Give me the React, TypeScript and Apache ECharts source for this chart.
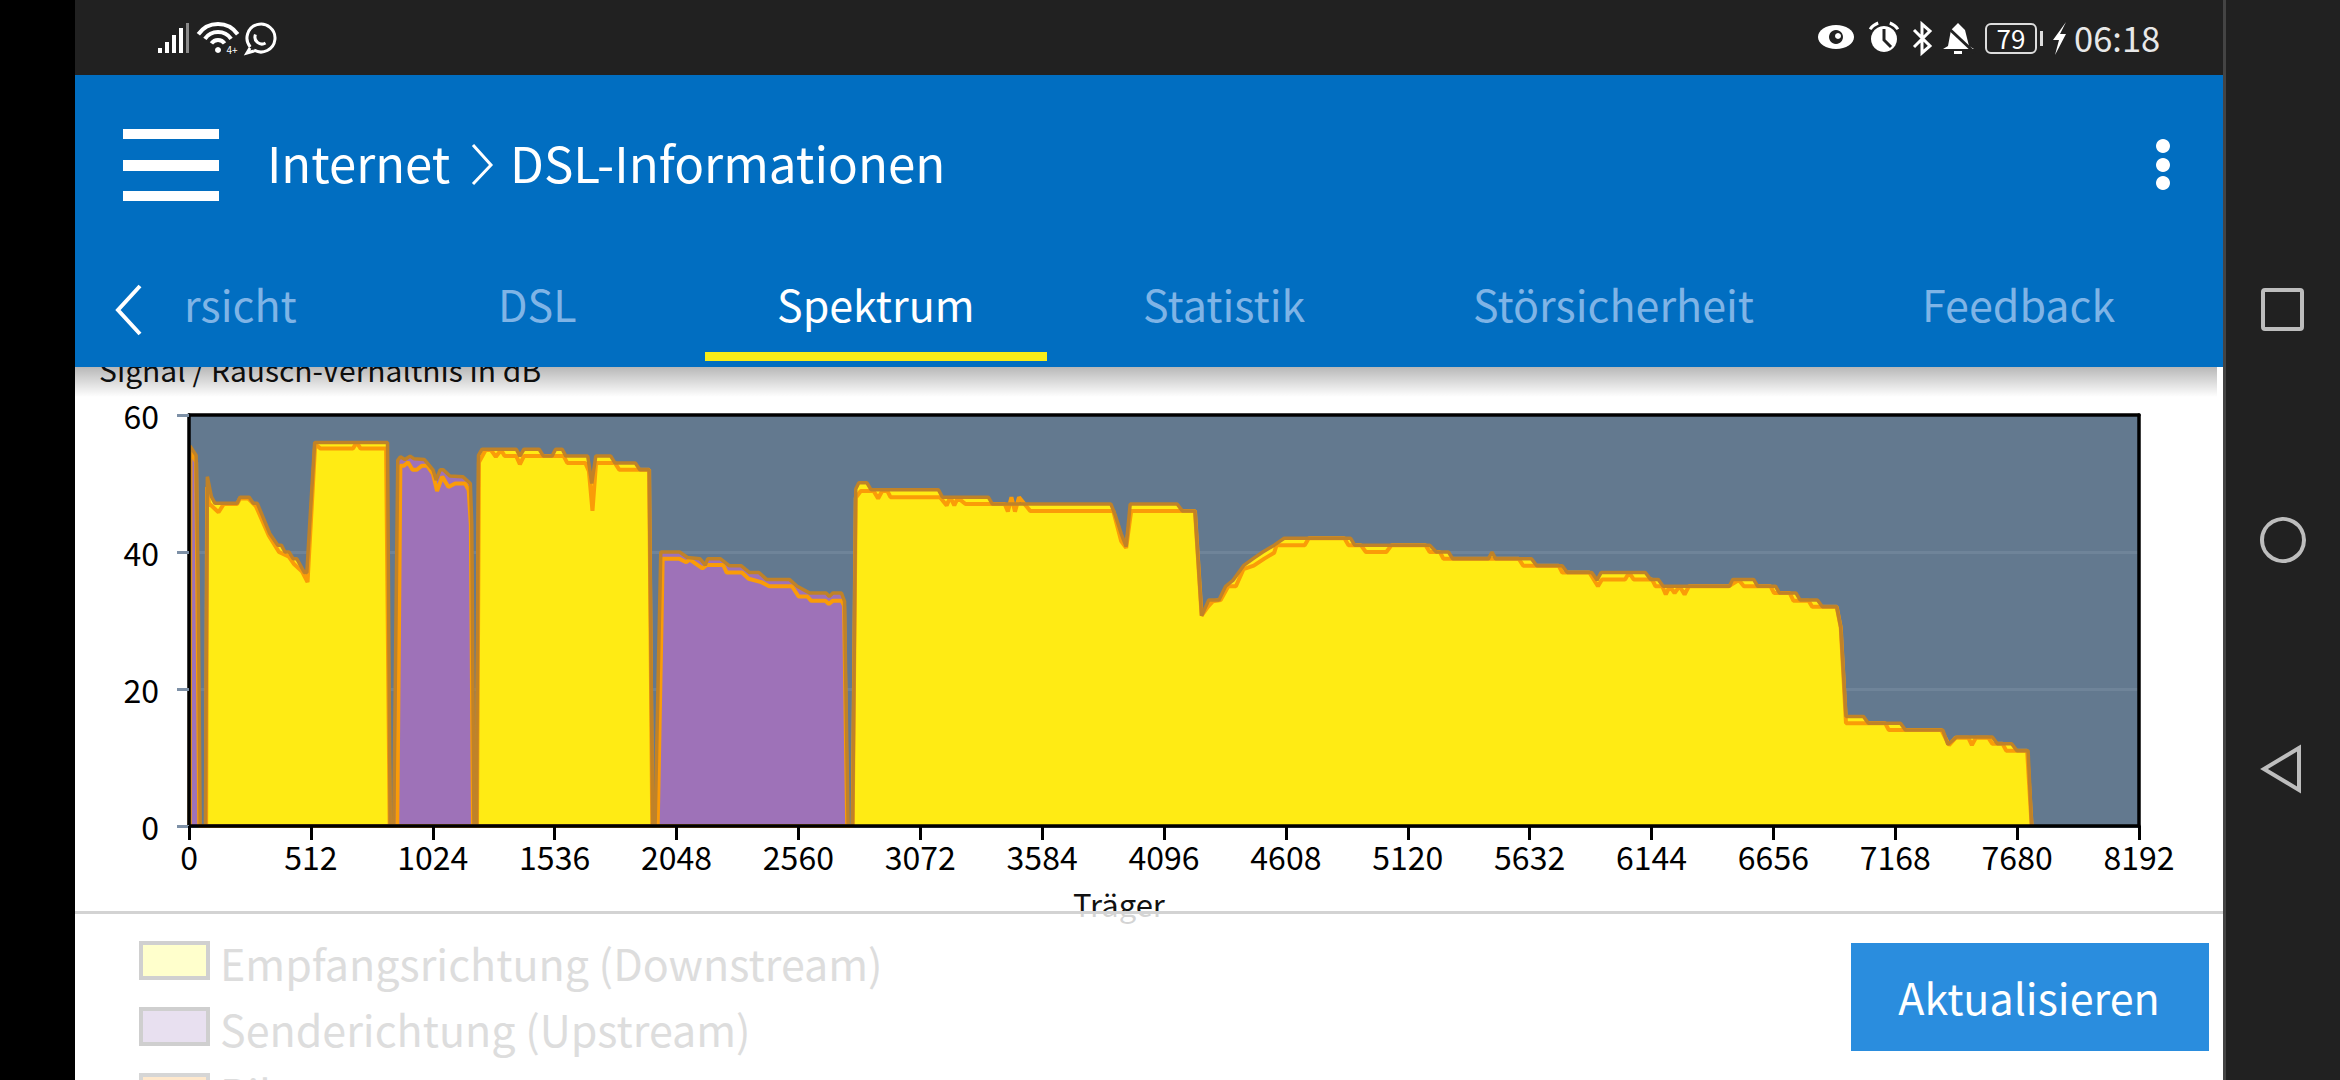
import React, { useEffect, useRef } from "react";
import * as echarts from "echarts";

const xTicks = { min: 0, max: 8192, step: 512 };
const yTicks = { min: 0, max: 60, step: 20 };

const upstreamMax: [number, number][] = [
  [2, 0], [4, 55.5], [30, 54.1], [39, 33.8], [47, 0], [860, 0], [877, 53.4], [888, 53.9], [907, 53.5], [929, 54], [946, 53.6],
  [989, 53.5], [1025, 52], [1038, 50.5], [1055, 52], [1068, 52], [1096, 51.1], [1150, 51], [1182, 50], [1188, 44], [1197, 0],
  [1958, 0], [1982, 40], [2061, 40], [2094, 39.2], [2147, 39], [2169, 38.1], [2179, 39], [2233, 39], [2269, 38], [2319, 38],
  [2355, 37], [2394, 37], [2426, 36], [2522, 36], [2555, 35], [2608, 34], [2677, 34], [2690, 33.5], [2705, 34], [2741, 34],
  [2754, 32.8], [2758, 23.4], [2769, 0],
];
const upstreamCurrent: [number, number][] = [
  [3, 0], [6, 55], [30, 53.1], [34, 39], [43, 0], [875, 0], [888, 52.6], [903, 52.6], [920, 53.1], [939, 52], [957, 52],
  [978, 52.6], [1000, 52.6], [1025, 51.4], [1042, 48.9], [1064, 51], [1090, 49.5], [1118, 50], [1160, 50], [1175, 49],
  [1184, 44], [1193, 0], [1969, 0], [1990, 39], [2061, 39], [2089, 38.5], [2104, 38.9], [2157, 37.6], [2175, 38.1], [2244, 38.1],
  [2259, 37], [2323, 37], [2351, 36.1], [2404, 35.6], [2437, 35], [2533, 35], [2561, 33.5], [2598, 33.5], [2613, 32.9],
  [2673, 32.9], [2688, 32.4], [2705, 32.9], [2741, 32.9], [2752, 32.2], [2765, 0],
];
const downstreamMax: [number, number][] = [
  [69, 0], [77, 51], [94, 48.1], [109, 47.1], [202, 47.1], [214, 48], [253, 48], [270, 47.1], [287, 47.1], [339, 42.7], [373, 41],
  [388, 41], [403, 40], [420, 40], [438, 39], [453, 39], [485, 37], [495, 37], [507, 44], [528, 56], [834, 56], [845, 0],
  [1208, 0], [1216, 54.1], [1231, 55], [1375, 55], [1390, 54], [1407, 55], [1471, 55], [1489, 54], [1525, 54], [1540, 55], [1568, 55],
  [1583, 54], [1675, 54], [1692, 50], [1709, 54], [1772, 54], [1789, 53], [1875, 53], [1894, 52], [1933, 52], [1948, 0],
  [2788, 0], [2801, 49.2], [2814, 50.1], [2848, 50.1], [2865, 49.1], [3148, 49.1], [3165, 48], [3358, 48], [3375, 47], [3873, 47],
  [3890, 45.5], [3916, 42.7], [3937, 40.8], [3954, 47], [4151, 47], [4173, 46], [4226, 46], [4254, 30.7], [4284, 33], [4327, 33],
  [4355, 35], [4387, 35.9], [4430, 38], [4469, 39], [4511, 40], [4559, 41], [4601, 42], [4880, 42], [4897, 41], [5212, 41], [5240, 40],
  [5291, 40], [5309, 39], [5459, 39], [5474, 40], [5489, 39], [5640, 39], [5662, 38], [5769, 38], [5790, 37], [5893, 37], [5915, 35.9],
  [5932, 37], [6118, 37], [6140, 36], [6172, 36], [6193, 35], [6472, 35], [6485, 36], [6573, 36], [6590, 35], [6665, 35], [6682, 34],
  [6751, 34], [6768, 33], [6841, 33], [6862, 32], [6922, 32], [6939, 29], [6961, 16], [7034, 16], [7055, 15], [7190, 15], [7211, 14],
  [7368, 14], [7389, 11.9], [7426, 13], [7576, 13], [7597, 12], [7657, 12], [7679, 11], [7726, 11], [7741, 0],
];
const downstreamCurrent: [number, number][] = [
  [72, 0], [76, 49.5], [84, 47.1], [124, 45.8], [146, 47], [202, 47], [214, 47.8], [249, 47.8], [281, 46.7], [335, 42.4], [378, 40],
  [420, 39.3], [442, 38.2], [474, 37.2], [498, 35.6], [530, 55.7], [553, 55.1], [689, 55.1], [704, 56], [721, 55.1], [828, 55.1], [843, 0],
  [1210, 0], [1218, 53.1], [1246, 54.9], [1268, 54.9], [1289, 53.9], [1311, 54.9], [1326, 54], [1375, 54], [1390, 52.8], [1407, 54],
  [1574, 54], [1589, 53], [1665, 53], [1680, 51.8], [1695, 46], [1710, 53], [1789, 53], [1808, 52], [1933, 52], [1946, 0],
  [2788, 0], [2801, 47.9], [2822, 48.9], [2876, 48.9], [2895, 47.8], [2912, 48.9], [2934, 48.9], [2947, 48], [3155, 48], [3183, 46.8],
  [3198, 48], [3215, 46.8], [3230, 47.9], [3262, 47], [3427, 47], [3440, 45.9], [3455, 48], [3470, 45.9], [3487, 48], [3534, 46],
  [3883, 46], [3916, 41.6], [3937, 40.6], [3958, 46], [4226, 46], [4254, 30.7], [4280, 32], [4301, 32.8], [4334, 33], [4366, 35],
  [4398, 35], [4430, 37.5], [4473, 38], [4516, 39], [4559, 39.9], [4569, 41], [4687, 41], [4704, 42], [4854, 42], [4871, 41], [4923, 41],
  [4944, 40], [5030, 40], [5052, 41], [5195, 41], [5212, 40], [5255, 40], [5270, 39], [5587, 39], [5605, 38], [5754, 38], [5769, 37],
  [5883, 37], [5919, 35], [5936, 36], [6033, 36], [6050, 37], [6069, 36], [6146, 36], [6161, 35], [6189, 35], [6204, 33.8], [6221, 35],
  [6241, 34], [6262, 35], [6283, 33.8], [6301, 35], [6468, 35], [6511, 35.9], [6532, 35], [6644, 35], [6659, 34], [6725, 34], [6740, 32.9],
  [6804, 32.9], [6819, 32], [6922, 32], [6939, 29], [6961, 15], [7126, 15], [7141, 14], [7362, 14], [7394, 11.8], [7422, 12.9], [7475, 12.9],
  [7490, 11.8], [7507, 12.9], [7559, 12.9], [7576, 12], [7619, 12], [7634, 11], [7722, 11], [7741, 0],
];

const F = '"Noto Sans CJK SC", "Noto Sans", sans-serif';
const rad = (d: number) => (d * Math.PI) / 180;

const txt = (text: string, x: number, y: number, size: number, fill: string, z: number, align = "left") => ({
  type: "text", z, silent: true,
  style: { text, x, y, fill, font: `${size}px ${F}`, textAlign: align, textVerticalAlign: "middle", verticalAlign: "middle" },
});
const box = (x: number, y: number, width: number, height: number, fill: any, z: number, extra: any = {}) => ({
  type: "rect", z, silent: true, shape: { x, y, width, height }, style: { fill, ...extra },
});
const poly = (points: number[][], stroke: string, lineWidth: number, z: number) => ({
  type: "polyline", z, silent: true, shape: { points }, style: { stroke, lineWidth, fill: "none" },
});
const polygon = (points: number[][], fill: string, z: number) => ({
  type: "polygon", z, silent: true, shape: { points }, style: { fill },
});
const arc = (cx: number, cy: number, r: number, a: number, b: number, w: number, z: number, stroke = "#ffffff") => ({
  type: "arc", z, silent: true, shape: { cx, cy, r, startAngle: rad(a), endAngle: rad(b) }, style: { stroke, lineWidth: w, fill: "none" },
});

function furniture(): any[] {
  const Z = 20, T = 22;
  const tab = "#7fb4e6";
  const grey = "#bdbdbd";
  return [
    // plot title, hidden in part behind the app bar
    txt("Signal / Rausch-Verhältnis in dB", 99, 369, 30, "#111111", 10),
    // x axis title, veiled by the legend panel
    txt("Träger", 1119, 903, 31, "#111111", 10, "center"),
    // legend panel
    box(75, 914, 2149, 166, "rgba(255,255,255,0.82)", 12),
    box(75, 911, 2149, 3, "#d3d3d3", 13),
    box(141, 943, 67, 35, "#ffffcc", 14, { stroke: "#d0d0d0", lineWidth: 4 }),
    txt("Empfangsrichtung (Downstream)", 220, 962, 43, "#dddddd", 14),
    box(141, 1009, 67, 35, "#e8e0f0", 14, { stroke: "#cfcfcf", lineWidth: 4 }),
    txt("Senderichtung (Upstream)", 220, 1028, 43, "#dddddd", 14),
    box(141, 1075, 67, 35, "#ffe8cc", 14, { stroke: "#d6d6d6", lineWidth: 4 }),
    txt("Pilotton", 220, 1092, 43, "#dddddd", 14),
    box(1851, 943, 358, 108, "#2a8dde", 14),
    txt("Aktualisieren", 2029, 996, 43, "#ffffff", 15, "center"),
    // app bar
    {
      type: "rect", z: Z, silent: true, shape: { x: 75, y: 367, width: 2142, height: 30 },
      style: {
        fill: new echarts.graphic.LinearGradient(0, 0, 0, 1, [
          { offset: 0, color: "rgba(0,0,0,0.28)" },
          { offset: 1, color: "rgba(0,0,0,0)" },
        ]),
      },
    },
    box(75, 75, 2149, 292, "#016ec1", Z),
    box(123, 129, 96, 10, "#ffffff", T),
    box(123, 160, 96, 11, "#ffffff", T),
    box(123, 191, 96, 10, "#ffffff", T),
    txt("Internet", 267, 161, 49, "#ffffff", T),
    poly([[473, 145], [491, 165], [473, 184]], "#ffffff", 3, T),
    txt("DSL-Informationen", 510, 161, 49.3, "#ffffff", T),
    { type: "circle", z: T, silent: true, shape: { cx: 2163, cy: 146, r: 7 }, style: { fill: "#ffffff" } },
    { type: "circle", z: T, silent: true, shape: { cx: 2163, cy: 165, r: 7 }, style: { fill: "#ffffff" } },
    { type: "circle", z: T, silent: true, shape: { cx: 2163, cy: 183, r: 7 }, style: { fill: "#ffffff" } },
    poly([[140, 286], [118, 310], [140, 334]], "#ffffff", 4, T),
    txt("rsicht", 184, 303, 43, tab, T),
    txt("DSL", 498, 303, 43, tab, T),
    txt("Spektrum", 777, 303, 43, "#ffffff", T),
    box(705, 352, 342, 9, "#f9ec18", T),
    txt("Statistik", 1143, 303, 43, tab, T),
    txt("Störsicherheit", 1473, 303, 43, tab, T),
    txt("Feedback", 1922, 303, 43, tab, T),
    // status bar
    box(75, 0, 2149, 75, "#212121", Z),
    box(0, 0, 75, 1080, "#000000", Z),
    box(2223, 0, 117, 1080, "#212121", Z),
    box(2223, 0, 3, 1080, "#444444", T),
    box(158, 48, 4, 5, "#ffffff", T),
    box(165, 42, 4, 11, "#ffffff", T),
    box(172, 35, 4, 18, "#ffffff", T),
    box(179, 28, 4, 25, "#ffffff", T),
    box(186, 23, 3, 30, "#8a8a8a", T),
    arc(218, 48, 8, 215, 325, 4, T),
    arc(218, 48, 16, 215, 325, 4, T),
    arc(218, 48, 24, 215, 325, 4, T),
    { type: "circle", z: T, silent: true, shape: { cx: 218, cy: 50, r: 3 }, style: { fill: "#ffffff" } },
    txt("4+", 232, 49, 10, "#ffffff", T, "center"),
    arc(261, 38, 14, 140, 480, 3, T),
    poly([[250, 48], [247, 53], [254, 51]], "#ffffff", 3, T),
    arc(262, 37, 7, 60, 200, 3, T),
    { type: "ellipse", z: T, silent: true, shape: { cx: 1836, cy: 37, rx: 18, ry: 12 }, style: { fill: "#ffffff" } },
    { type: "circle", z: T, silent: true, shape: { cx: 1836, cy: 37, r: 7 }, style: { fill: "#212121" } },
    { type: "circle", z: T, silent: true, shape: { cx: 1838, cy: 36, r: 3 }, style: { fill: "#ffffff" } },
    { type: "circle", z: T, silent: true, shape: { cx: 1884, cy: 39, r: 13 }, style: { fill: "#ffffff" } },
    poly([[1884, 29], [1884, 40], [1891, 47]], "#212121", 3, T),
    arc(1884, 39, 17, 215, 250, 3, T),
    arc(1884, 39, 17, 290, 325, 3, T),
    poly([[1914, 30], [1930, 46], [1922, 53], [1922, 24], [1930, 31], [1914, 47]], "#ffffff", 3, T),
    polygon([[1958, 23], [1965, 30], [1969, 46], [1974, 49], [1943, 49], [1948, 46], [1951, 30]], "#ffffff", T),
    box(1954, 51, 8, 3, "#ffffff", T),
    poly([[1943, 23], [1975, 53]], "#212121", 3, T),
    { type: "rect", z: T, silent: true, shape: { x: 1986, y: 24, width: 50, height: 29, r: 5 }, style: { fill: "none", stroke: "#dddddd", lineWidth: 2 } },
    txt("79", 2011, 37, 26, "#ffffff", T, "center"),
    box(2040, 31, 3, 15, "#dddddd", T),
    polygon([[2066, 22], [2053, 40], [2059, 40], [2055, 55], [2066, 34], [2060, 34]], "#ffffff", T),
    txt("06:18", 2074, 37, 34.5, "#e8e8e8", T),
    // navigation bar
    { type: "rect", z: T, silent: true, shape: { x: 2263, y: 290, width: 39, height: 39, r: 2 }, style: { fill: "none", stroke: grey, lineWidth: 4 } },
    { type: "circle", z: T, silent: true, shape: { cx: 2283, cy: 540, r: 21 }, style: { fill: "none", stroke: grey, lineWidth: 4 } },
    { type: "polygon", z: T, silent: true, shape: { points: [[2299, 748], [2264, 769], [2299, 790]] }, style: { fill: "none", stroke: grey, lineWidth: 4 } },
  ];
}

const frameAxis = {
  z: 5,
  axisLine: { show: true, onZero: false, lineStyle: { color: "#000000", width: 3.5 } },
  splitLine: { show: false },
};

export default function App() {
  const ref = useRef<HTMLDivElement>(null);
  useEffect(() => {
    const chart = echarts.init(ref.current!, null, { renderer: "svg", width: 2340, height: 1080 });
    const label = { fontFamily: F, fontSize: 32, color: "#000000" };
    const fill = (name: string, data: [number, number][], color: string) => ({
      type: "line", name, data, symbol: "none", z: 2, lineStyle: { width: 0 }, areaStyle: { color, opacity: 1 },
    });
    const trace = (name: string, data: [number, number][], color: string, z: number, width: number) => ({
      type: "line", name, data, symbol: "none", z, lineStyle: { width, color },
    });
    chart.setOption({
      animation: false,
      backgroundColor: "#ffffff",
      grid: { left: 189, top: 415, width: 1950, height: 411, show: true, backgroundColor: "#63798f", borderWidth: 0 },
      xAxis: [
        {
          ...frameAxis, type: "value", position: "bottom", min: xTicks.min, max: xTicks.max, interval: xTicks.step,
          axisTick: { show: true, length: 14, lineStyle: { color: "#000000", width: 3 } },
          axisLabel: { ...label, margin: 14, showMinLabel: true, showMaxLabel: true, formatter: (v: number) => String(v) },
        },
        {
          ...frameAxis, type: "value", position: "top", min: xTicks.min, max: xTicks.max, interval: xTicks.step,
          axisTick: { show: false }, axisLabel: { show: false },
        },
      ],
      yAxis: [
        {
          ...frameAxis, type: "value", position: "left", min: yTicks.min, max: yTicks.max, interval: yTicks.step,
          axisTick: { show: true, length: 12, lineStyle: { color: "#7d90a6", width: 3 } },
          axisLabel: { ...label, margin: 30 },
        },
        {
          ...frameAxis, type: "value", position: "right", min: yTicks.min, max: yTicks.max, interval: yTicks.step,
          axisTick: { show: false }, axisLabel: { show: false },
        },
        {
          type: "value", position: "left", z: 0, min: yTicks.min, max: yTicks.max, interval: yTicks.step,
          axisLine: { show: false }, axisTick: { show: false }, axisLabel: { show: false },
          splitLine: { show: true, lineStyle: { color: "#6f8499", width: 3 } },
        },
      ],
      series: [
        fill("Empfangsrichtung (Downstream)", downstreamMax, "#ffeb14"),
        fill("Senderichtung (Upstream)", upstreamMax, "#9e72b8"),
        trace("Downstream aktuell", downstreamCurrent, "#fa9c08", 3, 4),
        trace("Upstream aktuell", upstreamCurrent, "#fa9c08", 3, 4),
        trace("Downstream Maximum", downstreamMax, "#c08228", 4, 3.5),
        trace("Upstream Maximum", upstreamMax, "#c08228", 4, 3.5),
      ],
      graphic: { elements: furniture() },
    });
    return () => chart.dispose();
  }, []);
  return <div ref={ref} style={{ position: "fixed", left: 0, top: 0, width: 2340, height: 1080 }} />;
}
